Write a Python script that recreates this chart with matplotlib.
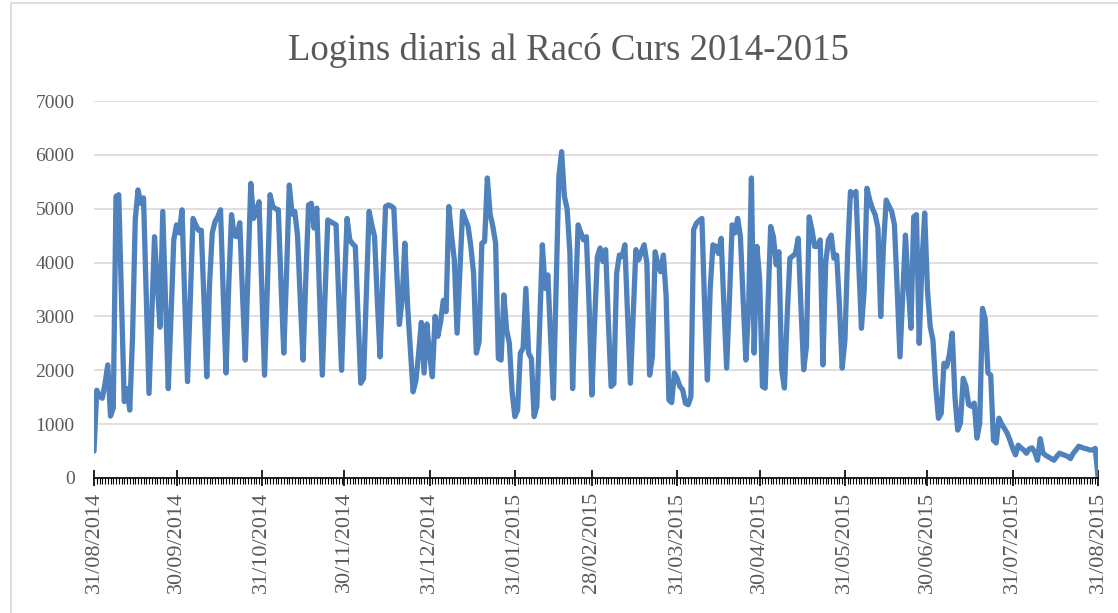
import pandas as pd
import matplotlib
matplotlib.use("Agg")
import matplotlib.pyplot as plt
import matplotlib.dates as mdates
from matplotlib.patches import Rectangle

title = "Logins diaris al Racó Curs 2014-2015"
start_date = "2014-08-31"

# daily logins, one list per month
logins_aug14 = [500]
logins_sep = [1630, 1520, 1480, 1750, 2100, 1150, 1300, 5230, 5260, 3300, 1420, 1660, 1260, 2600,
              4800, 5350, 5100, 5200, 3400, 1570, 3000, 4480, 3600, 2800, 4950, 3300, 1660, 3000,
              4420, 4700]
logins_oct = [4550, 4980, 3300, 1790, 3300, 4820, 4700, 4600, 4600, 3300, 1880, 3600, 4550, 4760,
              4850, 4980, 3400, 1950, 3600, 4890, 4500, 4480, 4740, 3400, 2190, 3800, 5470, 4820,
              4950, 5130, 3500]
logins_nov = [1910, 3500, 5260, 5040, 5000, 4980, 3600, 2320, 3800, 5440, 4900, 4950, 4500, 3300,
              2190, 3700, 5070, 5100, 4640, 5010, 3400, 1910, 3400, 4790, 4760, 4730, 4700, 3300,
              2000, 3500]
logins_dec = [4820, 4420, 4350, 4300, 3000, 1760, 1850, 3400, 4950, 4700, 4480, 3300, 2250, 3700,
              5040, 5070, 5050, 5010, 3900, 2850, 3300, 4360, 3200, 2400, 1600, 1800, 2300, 2890,
              1950, 2860, 2300]
logins_jan = [1880, 3000, 2630, 2900, 3300, 3090, 5040, 4500, 4050, 2690, 3800, 4950, 4800, 4670,
              4300, 3800, 2320, 2530, 4360, 4390, 5570, 4900, 4670, 4360, 2220, 2190, 3400, 2750,
              2500, 1600, 1140]
logins_feb = [1260, 2320, 2410, 3520, 2320, 2220, 1140, 1330, 2800, 4330, 3520, 3770, 2600, 1480,
              3500, 5600, 6060, 5230, 5000, 4200, 1660, 3300, 4700, 4550, 4420, 4480, 3200, 1540]
logins_mar = [2900, 4110, 4270, 4020, 4240, 2900, 1700, 1750, 3800, 4140, 4110, 4330, 3000, 1760,
              3000, 4240, 4050, 4200, 4330, 3990, 1910, 2250, 4200, 3960, 3830, 4140, 3370, 1450,
              1400, 1950, 1850]
logins_apr = [1700, 1640, 1390, 1360, 1510, 4610, 4730, 4780, 4820, 3180, 1820, 3500, 4330, 4300,
              4170, 4450, 3200, 2040, 3300, 4700, 4550, 4820, 4480, 3300, 2190, 3180, 5570, 2320,
              4300, 3680]
logins_may = [1700, 1670, 3200, 4670, 4480, 3960, 4200, 2010, 1670, 3000, 4080, 4120, 4170, 4450,
              3200, 2010, 2440, 4850, 4610, 4300, 4300, 4420, 2100, 4000, 4420, 4510, 4080, 4140,
              3200, 2040, 2560]
logins_jun = [4200, 5320, 5260, 5320, 4000, 2780, 3490, 5380, 5160, 5000, 4890, 4640, 3000, 4300,
              5160, 5050, 4950, 4700, 3500, 2250, 3400, 4510, 3560, 2780, 4850, 4890, 2500, 4000,
              4920, 3490]
logins_jul = [2810, 2560, 1700, 1110, 1200, 2130, 2070, 2300, 2690, 1500, 890, 1020, 1850, 1700,
              1360, 1330, 1390, 740, 1020, 3150, 2950, 1950, 1910, 700, 650, 1110, 1000, 920,
              830, 700, 550]
logins_aug = [430, 610, 560, 520, 460, 540, 560, 480, 330, 730, 460, 420, 390, 360, 330, 400,
              460, 440, 420, 400, 360, 460, 520, 590, 570, 550, 540, 520, 520, 550, 30]

tick_labels = ["31/08/2014", "30/09/2014", "31/10/2014", "30/11/2014", "31/12/2014",
               "31/01/2015", "28/02/2015", "31/03/2015", "30/04/2015", "31/05/2015",
               "30/06/2015", "31/07/2015", "31/08/2015"]
y_ticks = [0, 1000, 2000, 3000, 4000, 5000, 6000, 7000]

logins = (logins_aug14 + logins_sep + logins_oct + logins_nov + logins_dec + logins_jan +
          logins_feb + logins_mar + logins_apr + logins_may + logins_jun + logins_jul + logins_aug)
dates = pd.date_range(start_date, periods=len(logins), freq="D")
tick_dates = pd.to_datetime(tick_labels, format="%d/%m/%Y")

plt.rcParams["font.family"] = ["Liberation Serif", "DejaVu Serif"]
text_col = "#595959"

fig = plt.figure(figsize=(11.18, 6.13), dpi=100)
ax = fig.add_axes([94 / 1118, 1 - 478 / 613, 1004 / 1118, 377 / 613])

ax.plot(dates, logins, color="#4F81BD", lw=3.8, solid_joinstyle="round", solid_capstyle="round")

ax.set_xlim(dates[0], dates[-1])
ax.set_ylim(0, 7000)
ax.set_yticks(y_ticks)
ax.set_yticklabels([str(v) for v in y_ticks])
ax.yaxis.grid(True, color="#D9D9D9", lw=1.2)
ax.set_axisbelow(True)

for side in ["top", "right", "left"]:
    ax.spines[side].set_visible(False)
ax.spines["bottom"].set_color("black")
ax.spines["bottom"].set_linewidth(1.2)

ax.set_xticks(tick_dates)
ax.set_xticklabels(tick_labels, rotation=90)
ax.xaxis.set_minor_locator(mdates.DayLocator())

ax.tick_params(axis="y", length=0, pad=14, labelsize=14, labelcolor=text_col)
ax.tick_params(axis="x", which="major", direction="inout", length=12, width=1.2,
               pad=4, labelsize=16, labelcolor=text_col)
ax.tick_params(axis="x", which="minor", direction="out", length=4, width=0.8)

fig.text(0.508, 1 - 60 / 613, title, ha="center", va="baseline", fontsize=26.5, color=text_col)

fig.add_artist(Rectangle((11 / 1118, -0.01), 1.1, 1 - 3 / 613 + 0.01, transform=fig.transFigure,
                         fill=False, edgecolor="#D9D9D9", lw=1.2))

fig.savefig("out.png", dpi=100)
